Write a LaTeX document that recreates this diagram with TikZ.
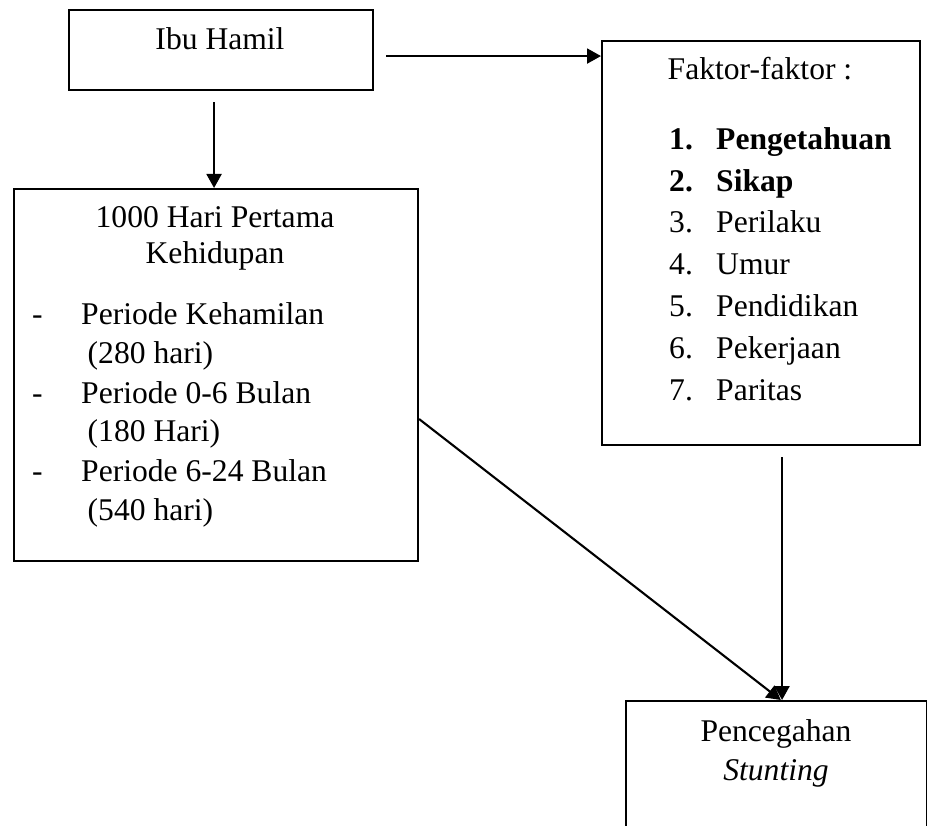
\documentclass[tikz,border=0pt]{standalone}
\usepackage{fontspec}
\setmainfont{Liberation Serif}
\usetikzlibrary{arrows.meta}
\begin{document}
\begin{tikzpicture}[x=1pt,y=-1pt,
  box/.style={draw, line width=2.1pt, inner sep=0pt, anchor=north west},
  txt/.style={inner sep=0pt, font=\fontsize{31.6}{38}\selectfont},
  arr/.style={line width=2.1pt, -{Triangle[length=14pt,width=15pt]}}]
\useasboundingbox (0,0) rectangle (927,826);
\fill[white] (0,0) rectangle (927,826);
\clip (0,0) rectangle (927,826);
% boxes
\node[box, minimum width=304pt, minimum height=80pt] (ibu) at (68,9) {};
\node[box, minimum width=404pt, minimum height=372pt] (onek) at (13,188) {};
\node[box, minimum width=318pt, minimum height=404pt] (faktor) at (601,40) {};
\node[box, minimum width=300.5pt, minimum height=200pt] (cegah) at (625,700) {};
% texts
\node[txt, anchor=base] (ibut) at (220,50) {Ibu Hamil};
\node[txt, anchor=base] (h1) at (215,228) {1000 Hari Pertama};
\node[txt, anchor=base] (h2) at (215,264) {Kehidupan};
\node[txt, anchor=base west] (d1) at (32,325) {-};
\node[txt, anchor=base west] (p1) at (81,325) {Periode Kehamilan};
\node[txt, anchor=base west] (q1) at (87.5,364) {(280 hari)};
\node[txt, anchor=base west] (d2) at (32,403) {-};
\node[txt, anchor=base west] (p2) at (81,403) {Periode 0-6 Bulan};
\node[txt, anchor=base west] (q2) at (87.5,442) {(180 Hari)};
\node[txt, anchor=base west] (d3) at (32,481) {-};
\node[txt, anchor=base west] (p3) at (81,481) {Periode 6-24 Bulan};
\node[txt, anchor=base west] (q3) at (87.5,520) {(540 hari)};
\node[txt, anchor=base] (ft) at (760,80) {Faktor-faktor :};
\node[txt, anchor=base west] (n1) at (669,150) {\textbf{1.}};
\node[txt, anchor=base west] (f1) at (716,150) {\textbf{Pengetahuan}};
\node[txt, anchor=base west] (n2) at (669,192) {\textbf{2.}};
\node[txt, anchor=base west] (f2) at (716,192) {\textbf{Sikap}};
\node[txt, anchor=base west] (n3) at (669,233) {3.};
\node[txt, anchor=base west] (f3) at (716,233) {Perilaku};
\node[txt, anchor=base west] (n4) at (669,275) {4.};
\node[txt, anchor=base west] (f4) at (716,275) {Umur};
\node[txt, anchor=base west] (n5) at (669,317) {5.};
\node[txt, anchor=base west] (f5) at (716,317) {Pendidikan};
\node[txt, anchor=base west] (n6) at (669,359) {6.};
\node[txt, anchor=base west] (f6) at (716,359) {Pekerjaan};
\node[txt, anchor=base west] (n7) at (669,401) {7.};
\node[txt, anchor=base west] (f7) at (716,401) {Paritas};
\node[txt, anchor=base] (c1) at (776,741) {Pencegahan};
\node[txt, anchor=base] (c2) at (776,780) {\textit{Stunting}};
% connectors
\coordinate (s1) at ([shift={(12,6)}]ibu.east);
\draw[arr] (s1) -- (s1 -| faktor.west);
\coordinate (s2) at ([shift={(-7,11)}]ibu.south);
\draw[arr] (s2) -- (s2 |- onek.north);
\coordinate (s3) at ([shift={(21,11)}]faktor.south);
\draw[arr] (s3) -- (s3 |- cegah.north);
\coordinate (s4) at ([shift={(0,44)}]onek.east);
\draw[arr] (s4) -- ([shift={(4.5,0)}]cegah.north);
\end{tikzpicture}
\end{document}
